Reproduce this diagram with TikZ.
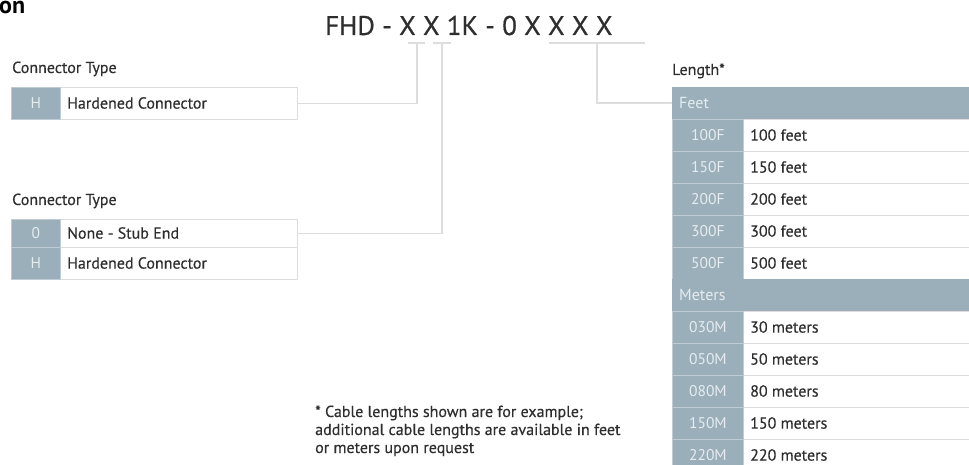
\documentclass[tikz,border=0pt]{standalone}
\usepackage{fontspec}
\setmainfont{PT Sans}
\newfontfamily\heavy[FakeBold=0.35]{PT Sans}
\newfontfamily\titlefont[FakeBold=0.6]{PT Sans}
\definecolor{slate}{HTML}{9BAFBA}
\definecolor{codetxt}{HTML}{E6ECEF}
\definecolor{codeline}{HTML}{BFCCD3}
\definecolor{rulec}{HTML}{DDDDDD}
\definecolor{ink}{HTML}{2E2E2E}
\begin{document}
\begin{tikzpicture}[x=1pt,y=-1pt,
  lab/.style={anchor=base west, font=\heavy\fontsize{16}{18}\selectfont, text=ink, inner sep=0},
  txtcell/.style={draw=rulec, line width=0.8, fill=white, anchor=north west, inner sep=0, minimum height=32},
  codecell/.style={draw=codeline, line width=0.8, fill=slate, anchor=north west, inner sep=0, minimum height=32, minimum width=#1, text=codetxt, font=\fontsize{15.5}{17}\selectfont},
  codecell/.default=49,
  celltxt/.style={anchor=west, inner sep=0, text=ink, font=\heavy\fontsize{16}{18}\selectfont},
  headcell/.style={fill=slate, anchor=north west, inner sep=0, minimum height=32, minimum width=300},
  headtxt/.style={anchor=west, inner sep=0, text=codetxt, font=\fontsize{16}{18}\selectfont},
  link/.style={draw=rulec, line width=1.6},
  uline/.style={draw=rulec, line width=1.4}]
\useasboundingbox (0,0) rectangle (969,465);
\clip (0,0) rectangle (969,465);
% cropped heading
\node[anchor=base west, inner sep=0, font=\bfseries\fontsize{24}{26}\selectfont, text=black] (head) at (-1,14) {on};
% title
\node[anchor=base west, inner sep=0, font=\titlefont\fontsize{27}{30}\selectfont, text=ink] (title) at (325,35) {FHD - X X 1K - 0 X X X X};
\coordinate (u1a) at (408,43); \coordinate (u1b) at (425,43);
\coordinate (u2a) at (433,43); \coordinate (u2b) at (451,43);
\coordinate (u3a) at (549,43); \coordinate (u3b) at (645,43);
\draw[uline] (u1a) -- (u1b);
\draw[uline] (u2a) -- (u2b);
\draw[uline] (u3a) -- (u3b);
\coordinate (u1) at (417,43);
\coordinate (u2) at (442,43);
\coordinate (u3) at (597,43);
% left group 1
\node[lab] (ct1) at (12,73) {Connector Type};
\node[txtcell, minimum width=286] (b1) at (11,87) {};
\node[codecell] (b1c) at (11,87) {H};
\node[celltxt] (b1t) at (67,103) {Hardened Connector};
% left group 2
\node[lab] (ct2) at (12,205) {Connector Type};
\node[txtcell, minimum width=286, minimum height=28] (b2) at (11,219) {};
\node[codecell, minimum height=28] (b2c) at (11,219) {0};
\node[celltxt] (b2t) at (67,233) {None - Stub End};
\node[txtcell, minimum width=286] (b3) at (11,247) {};
\node[codecell] (b3c) at (11,247) {H};
\node[celltxt] (b3t) at (67,263) {Hardened Connector};
% right table
\node[lab] (len) at (672,75) {Length*};
\node[headcell] (hf) at (672,87) {};
\node[headtxt] (hft) at (679,103) {Feet};
\foreach \c/\t [count=\i] in {100F/100 feet,150F/150 feet,200F/200 feet,300F/300 feet,500F/500 feet}{
  \node[txtcell, minimum width=240] (f\i) at (743,{119+32*(\i-1)}) {};
  \node[codecell=71] (fc\i) at (672,{119+32*(\i-1)}) {\c};
  \node[celltxt] (ft\i) at (750,{135+32*(\i-1)}) {\t};
}
\node[headcell] (hm) at (672,279) {};
\node[headtxt] (hmt) at (679,295) {Meters};
\foreach \c/\t [count=\i] in {030M/30 meters,050M/50 meters,080M/80 meters,150M/150 meters,220M/220 meters}{
  \node[txtcell, minimum width=240] (m\i) at (743,{311+32*(\i-1)}) {};
  \node[codecell=71] (mc\i) at (672,{311+32*(\i-1)}) {\c};
  \node[celltxt] (mt\i) at (750,{327+32*(\i-1)}) {\t};
}
% connectors
\draw[link] (u1) |- (b1.east);
\draw[link] (u2) |- (b2.east);
\draw[link] (u3) |- (hf.west);
% footnote
\node[anchor=base west, inner sep=0, text=ink, font=\heavy\fontsize{16}{18}\selectfont, align=left] (note) at (315,453) {* Cable lengths shown are for example;\\additional cable lengths are available in feet\\or meters upon request};
\end{tikzpicture}
\end{document}
